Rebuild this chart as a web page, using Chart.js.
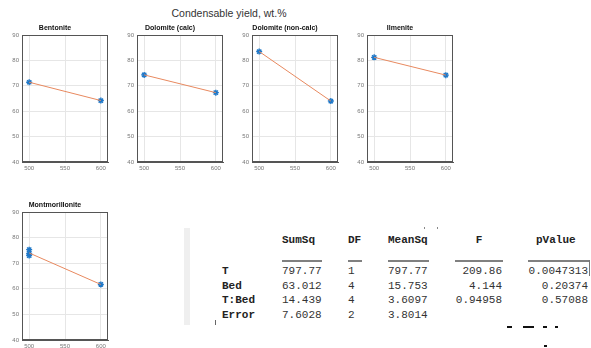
<!DOCTYPE html>
<html>
<head>
<meta charset="utf-8">
<script src="https://cdn.jsdelivr.net/npm/chart.js@4.4.1/dist/chart.umd.min.js"></script>
<style>
  body { margin: 0; background: #fff; }
  #wrap { position: relative; width: 591px; height: 348px; overflow: hidden; font-family: 'Liberation Sans', Arial, sans-serif; }
  .sub { position: absolute; }
  #mainTitle { position: absolute; left: 0; width: 458px; top: 7px; text-align: center; font-size: 10.5px; color: #333; }
  .tc { position: absolute; font-family: 'Liberation Mono', 'Courier New', monospace; font-size: 11px; line-height: 12px; color: #333; white-space: pre; }
  .ul { position: absolute; height: 2px; background: #808080; }
</style>
</head>
<body>
<div id="wrap">
  <div id="mainTitle">Condensable yield, wt.%</div>
</div>
<script>
// ---- data ----
var temps = [500, 600];
var xTicks = [500, 550, 600];
var yTicks = [40, 50, 60, 70, 80, 90];
var bedNames = ['Bentonite', 'Dolomite (calc)', 'Dolomite (non-calc)', 'Ilmenite', 'Montmorillonite'];

var bentonite = [71.4, 64.2];
var dolomiteCalc = [74.3, 67.3];
var dolomiteNonCalc = [83.5, 64.0];
var ilmenite = [81.2, 74.2];
// Montmorillonite has replicate runs at 500
var montLine = [74.0, 61.7];
var montRuns500 = [75.3, 73.8, 73.0];
var montRuns600 = [61.7];

// ANOVA table
var anovaCols = ['SumSq', 'DF', 'MeanSq', 'F', 'pValue'];
var anovaRows = ['T', 'Bed', 'T:Bed', 'Error'];
var sumSq = ['797.77', '63.012', '14.439', '7.6028'];
var dof = ['1', '4', '4', '2'];
var meanSq = ['797.77', '15.753', '3.6097', '3.8014'];
var fStat = ['209.86', '4.144', '0.94958', ''];
var pValue = ['0.0047313', '0.20374', '0.57088', ''];

// ---- layout ----
var PLOT_W = 86, PLOT_H = 127, Y_AX_W = 20, X_AX_H = 12, TITLE_H = 11, PAD_R = 6;
var LINE_COLOR = '#E8895F';
var MARK_COLOR = '#1f78c8';

var wrap = document.getElementById('wrap');

var boxPlugin = {
  id: 'box',
  afterDatasetsDraw: function(chart) {
    var a = chart.chartArea, c = chart.ctx;
    c.save();
    c.strokeStyle = '#555';
    c.lineWidth = 1;
    c.strokeRect(Math.round(a.left) + 0.5, Math.round(a.top) + 0.5,
                 Math.round(a.right - a.left) - 1, Math.round(a.bottom - a.top) - 1);
    c.restore();
  }
};

function pts(xs, ys) {
  return ys.map(function(y, i) { return { x: xs[i], y: y }; });
}

function makeSubplot(plotLeft, plotTop, plotH, title, lineVals, marks) {
  var cv = document.createElement('canvas');
  var w = Y_AX_W + PLOT_W + PAD_R, h = TITLE_H + plotH + X_AX_H;
  cv.className = 'sub';
  cv.style.left = (plotLeft - Y_AX_W) + 'px';
  cv.style.top = (plotTop - TITLE_H) + 'px';
  cv.style.width = w + 'px';
  cv.style.height = h + 'px';
  cv.width = w; cv.height = h;
  wrap.appendChild(cv);

  var tickFont = { family: "'Liberation Sans', Arial, sans-serif", size: 6 };
  return new Chart(cv.getContext('2d'), {
    type: 'scatter',
    data: {
      datasets: [
        {
          data: pts(temps, lineVals),
          showLine: true,
          borderColor: LINE_COLOR,
          borderWidth: 1,
          pointRadius: 0
        },
        {
          data: marks,
          pointStyle: 'star',
          pointRadius: 3,
          borderColor: MARK_COLOR,
          backgroundColor: MARK_COLOR,
          borderWidth: 1.4
        }
      ]
    },
    options: {
      responsive: false,
      animation: false,
      devicePixelRatio: 1,
      layout: { padding: { top: 0, left: 0, right: PAD_R, bottom: 0 } },
      plugins: {
        legend: { display: false },
        tooltip: { enabled: false },
        title: {
          display: true,
          text: title,
          color: '#111',
          font: { family: "'Liberation Sans', Arial, sans-serif", size: 7, weight: 'bold', lineHeight: 1.2 },
          padding: { top: 0, bottom: TITLE_H - 8.4 }
        }
      },
      scales: {
        x: {
          type: 'linear',
          min: 490, max: 610,
          afterBuildTicks: function(s) { s.ticks = xTicks.map(function(v) { return { value: v }; }); },
          afterFit: function(s) { s.height = X_AX_H; },
          grid: { color: '#e6e6e6', drawTicks: false },
          border: { display: true, color: '#555' },
          ticks: { font: tickFont, color: '#777', padding: 3, maxRotation: 0 }
        },
        y: {
          type: 'linear',
          min: 40, max: 90,
          afterBuildTicks: function(s) { s.ticks = yTicks.map(function(v) { return { value: v }; }); },
          afterFit: function(s) { s.width = Y_AX_W; },
          grid: { color: '#e6e6e6', drawTicks: false },
          border: { display: true, color: '#555' },
          ticks: { font: tickFont, color: '#777', padding: 3 }
        }
      }
    },
    plugins: [boxPlugin]
  });
}

var row1Lefts = [22, 137, 252, 367];
var row1Data = [bentonite, dolomiteCalc, dolomiteNonCalc, ilmenite];
row1Data.forEach(function(vals, i) {
  makeSubplot(row1Lefts[i], 35, PLOT_H, bedNames[i], vals, pts(temps, vals));
});

var montMarks = montRuns500.map(function(y) { return { x: temps[0], y: y }; })
  .concat(montRuns600.map(function(y) { return { x: temps[1], y: y }; }));
makeSubplot(22, 211.5, 128, bedNames[4], montLine, montMarks);

// ---- ANOVA table (text) ----
function cell(text, x, yc, align, bold) {
  var d = document.createElement('div');
  d.className = 'tc';
  d.textContent = text;
  d.style.top = (yc - 6) + 'px';
  if (align === 'right') d.style.right = (591 - x) + 'px';
  else if (align === 'center') { d.style.left = (x - 40) + 'px'; d.style.width = '80px'; d.style.textAlign = 'center'; }
  else d.style.left = x + 'px';
  if (bold) { d.style.fontWeight = 'bold'; d.style.color = '#222'; }
  wrap.appendChild(d);
}
function box(cls, l, t, w, h, bg) {
  var d = document.createElement('div');
  d.className = cls;
  d.style.position = 'absolute';
  d.style.left = l + 'px'; d.style.top = t + 'px';
  d.style.width = w + 'px'; d.style.height = h + 'px';
  if (bg) d.style.background = bg;
  wrap.appendChild(d);
  return d;
}

// grey side bar of the command window
box('', 184, 228, 6, 97, '#efefef');
box('', 215, 320, 1, 5, '#666');
box('', 424, 227, 1, 2, '#888');
box('', 437, 227, 1, 2, '#888');

var HEAD_Y = 240;
var ROW_Y = [271, 285.5, 300, 315];
cell(anovaCols[0], 282, HEAD_Y, 'left', true);
cell(anovaCols[1], 348, HEAD_Y, 'left', true);
cell(anovaCols[2], 388, HEAD_Y, 'left', true);
cell(anovaCols[3], 479, HEAD_Y, 'center', true);
cell(anovaCols[4], 536, HEAD_Y, 'left', true);

var ulSpans = [[282, 322], [348, 362], [388, 429], [455, 503], [528, 589]];
ulSpans.forEach(function(s) { box('ul', s[0], 260, s[1] - s[0], 2); });
box('', 589, 260, 1, 16, '#777');

anovaRows.forEach(function(r, i) {
  var y = ROW_Y[i];
  cell(r, 222, y, 'left', true);
  cell(sumSq[i], 282, y, 'left');
  cell(dof[i], 348, y, 'left');
  cell(meanSq[i], 388, y, 'left');
  if (fStat[i]) cell(fStat[i], 502, y, 'right');
  if (pValue[i]) cell(pValue[i], 588, y, 'right');
});

// cut-off ink fragments below the table
[[507, 326, 5, 2], [523, 326, 11, 2], [543, 326, 4, 2], [555, 326, 3, 2], [544, 345, 3, 2]]
  .forEach(function(f) { box('', f[0], f[1], f[2], f[3], '#111'); });
</script>
</body>
</html>
